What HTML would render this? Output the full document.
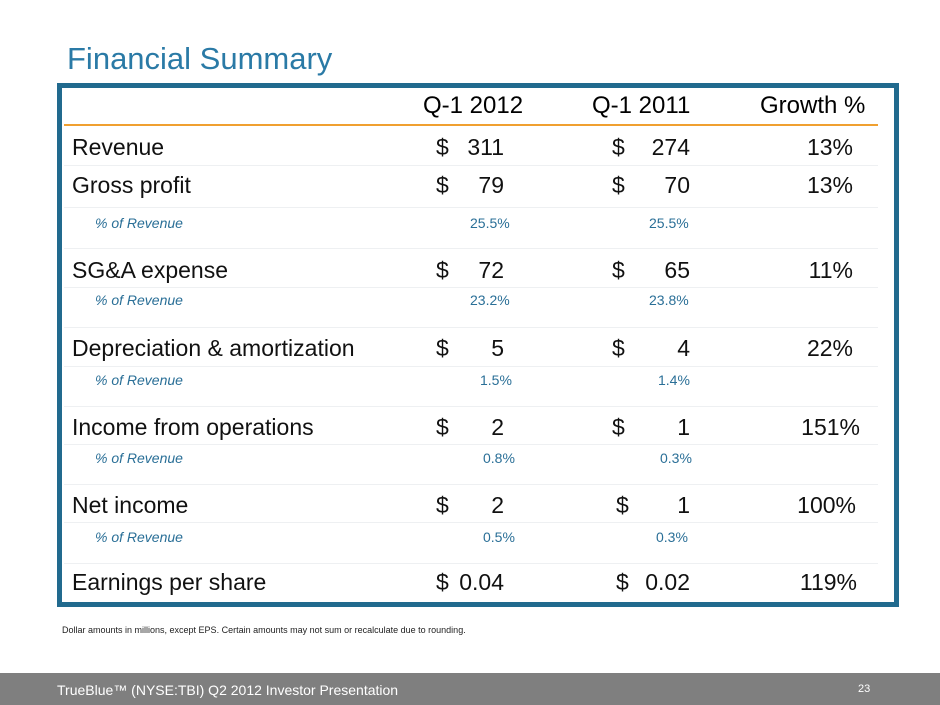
<!DOCTYPE html>
<html><head><style>
body{margin:0;width:940px;height:705px;position:relative;background:#fff;font-family:"Liberation Sans",sans-serif;overflow:hidden}
.a{position:absolute;white-space:nowrap;line-height:1}
.t{font-size:23px;color:#111}
.p{font-size:14px;color:#2a6f97;font-style:italic}
.v{font-size:14px;color:#2a6f97}
.sep{position:absolute;left:64px;width:814px;height:1px;background:#eef0f2}
.r{text-align:right}
</style></head><body>
<div class="a" style="left:67px;top:43px;font-size:31px;color:#2a7aa6">Financial Summary</div>
<div style="position:absolute;left:57px;top:83px;width:832px;height:514px;border:5px solid #216a8e;background:#fff"></div>
<div style="position:absolute;left:64px;top:124px;width:814px;height:2px;background:#f0a030"></div>
<div class="a" style="left:423px;top:94px;font-size:24px">Q-1 2012</div>
<div class="a" style="left:592px;top:94px;font-size:24px">Q-1 2011</div>
<div class="a" style="left:760px;top:94px;font-size:24px">Growth %</div>
<div class="sep" style="top:165px"></div><div class="sep" style="top:207px"></div><div class="sep" style="top:248px"></div><div class="sep" style="top:287px"></div><div class="sep" style="top:327px"></div><div class="sep" style="top:366px"></div><div class="sep" style="top:406px"></div><div class="sep" style="top:444px"></div><div class="sep" style="top:484px"></div><div class="sep" style="top:522px"></div><div class="sep" style="top:563px"></div>

<div class="a t" style="left:72px;top:136px">Revenue</div>
<div class="a t" style="left:436px;top:136px">$</div><div class="a t r" style="left:440px;width:64px;top:136px">311</div>
<div class="a t" style="left:612px;top:136px">$</div><div class="a t r" style="left:620px;width:70px;top:136px">274</div>
<div class="a t r" style="left:780px;width:73px;top:136px">13%</div>

<div class="a t" style="left:72px;top:174px">Gross profit</div>
<div class="a t" style="left:436px;top:174px">$</div><div class="a t r" style="left:440px;width:64px;top:174px">79</div>
<div class="a t" style="left:612px;top:174px">$</div><div class="a t r" style="left:620px;width:70px;top:174px">70</div>
<div class="a t r" style="left:780px;width:73px;top:174px">13%</div>
<div class="a p" style="left:95px;top:216px">% of Revenue</div>
<div class="a v" style="left:470px;top:216px">25.5%</div><div class="a v" style="left:649px;top:216px">25.5%</div>

<div class="a t" style="left:72px;top:259px">SG&amp;A expense</div>
<div class="a t" style="left:436px;top:259px">$</div><div class="a t r" style="left:440px;width:64px;top:259px">72</div>
<div class="a t" style="left:612px;top:259px">$</div><div class="a t r" style="left:620px;width:70px;top:259px">65</div>
<div class="a t r" style="left:780px;width:73px;top:259px">11%</div>
<div class="a p" style="left:95px;top:293px">% of Revenue</div>
<div class="a v" style="left:470px;top:293px">23.2%</div><div class="a v" style="left:649px;top:293px">23.8%</div>

<div class="a t" style="left:72px;top:337px">Depreciation &amp; amortization</div>
<div class="a t" style="left:436px;top:337px">$</div><div class="a t r" style="left:440px;width:64px;top:337px">5</div>
<div class="a t" style="left:612px;top:337px">$</div><div class="a t r" style="left:620px;width:70px;top:337px">4</div>
<div class="a t r" style="left:780px;width:73px;top:337px">22%</div>
<div class="a p" style="left:95px;top:373px">% of Revenue</div>
<div class="a v" style="left:480px;top:373px">1.5%</div><div class="a v" style="left:658px;top:373px">1.4%</div>

<div class="a t" style="left:72px;top:416px">Income from operations</div>
<div class="a t" style="left:436px;top:416px">$</div><div class="a t r" style="left:440px;width:64px;top:416px">2</div>
<div class="a t" style="left:612px;top:416px">$</div><div class="a t r" style="left:620px;width:70px;top:416px">1</div>
<div class="a t r" style="left:780px;width:80px;top:416px">151%</div>
<div class="a p" style="left:95px;top:451px">% of Revenue</div>
<div class="a v" style="left:483px;top:451px">0.8%</div><div class="a v" style="left:660px;top:451px">0.3%</div>

<div class="a t" style="left:72px;top:494px">Net income</div>
<div class="a t" style="left:436px;top:494px">$</div><div class="a t r" style="left:440px;width:64px;top:494px">2</div>
<div class="a t" style="left:616px;top:494px">$</div><div class="a t r" style="left:620px;width:70px;top:494px">1</div>
<div class="a t r" style="left:780px;width:76px;top:494px">100%</div>
<div class="a p" style="left:95px;top:530px">% of Revenue</div>
<div class="a v" style="left:483px;top:530px">0.5%</div><div class="a v" style="left:656px;top:530px">0.3%</div>

<div class="a t" style="left:72px;top:571px">Earnings per share</div>
<div class="a t" style="left:436px;top:571px">$</div><div class="a t r" style="left:440px;width:64px;top:571px">0.04</div>
<div class="a t" style="left:616px;top:571px">$</div><div class="a t r" style="left:620px;width:70px;top:571px">0.02</div>
<div class="a t r" style="left:780px;width:77px;top:571px">119%</div>

<div class="a" style="left:62px;top:626px;font-size:9px;color:#222">Dollar amounts in millions, except EPS. Certain amounts may not sum or recalculate due to rounding.</div>
<div style="position:absolute;left:0;top:673px;width:940px;height:32px;background:#7f7f7f"></div>
<div class="a" style="left:57px;top:683px;font-size:14px;color:#fff">TrueBlue™ (NYSE:TBI) Q2 2012 Investor Presentation</div>
<div class="a" style="left:858px;top:684px;font-size:11px;color:#fff">23</div>
</body></html>
